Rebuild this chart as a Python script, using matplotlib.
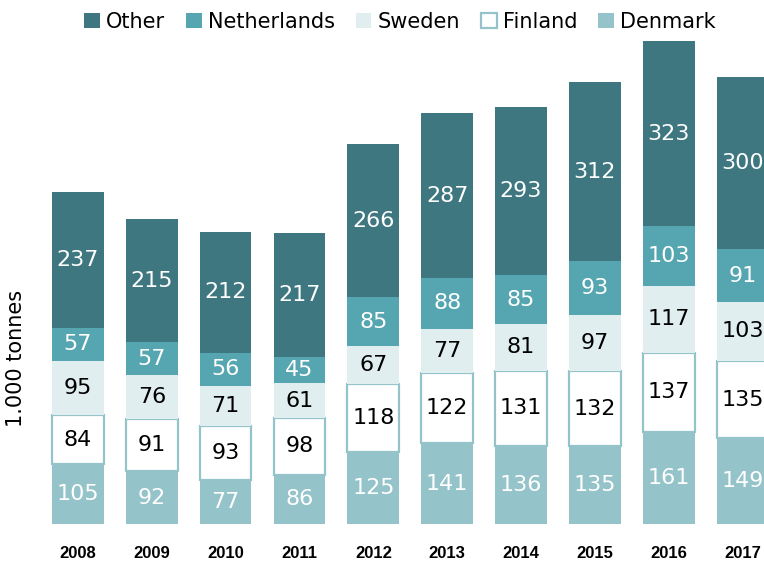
import matplotlib.pyplot as plt
import numpy as np

years = ['2008', '2009', '2010', '2011', '2012', '2013', '2014', '2015', '2016', '2017']
denmark = [105, 92, 77, 86, 125, 141, 136, 135, 161, 149]
finland = [84, 91, 93, 98, 118, 122, 131, 132, 137, 135]
sweden = [95, 76, 71, 61, 67, 77, 81, 97, 117, 103]
netherlands = [57, 57, 56, 45, 85, 88, 85, 93, 103, 91]
other = [237, 215, 212, 217, 266, 287, 293, 312, 323, 300]

c_other = '#3e7780'
c_nl = '#55a6b0'
c_se = '#e0eeef'
c_dk = '#94c3c9'


def main():
    fig = plt.figure(figsize=(7.64, 5.64), dpi=100)
    ax = fig.add_axes([41 / 764, 40 / 564, 723 / 764, 517 / 564])

    x = np.arange(len(years))
    w = 0.7
    series = [
        ('Denmark', denmark, dict(color=c_dk), 'white'),
        ('Finland', finland, dict(color='white', edgecolor=c_dk, linewidth=1.6), 'black'),
        ('Sweden', sweden, dict(color=c_se), 'black'),
        ('Netherlands', netherlands, dict(color=c_nl), 'white'),
        ('Other', other, dict(color=c_other), 'white'),
    ]
    bottom = np.zeros(len(years))
    handles = {}
    for name, vals, style, txt in series:
        vals = np.array(vals)
        bars = ax.bar(x, vals, w, bottom=bottom, label=name, **style)
        handles[name] = bars
        for xi, b, v in zip(x, bottom, vals):
            ax.text(xi, b + v / 2, str(v), ha='center', va='center',
                    color=txt, fontsize=16, fontfamily='DejaVu Sans')
        bottom += vals

    ax.set_xlim(-0.5, 9.29)
    ax.set_ylim(0, 900)
    ax.set_xticks(x)
    ax.set_xticklabels(years, fontsize=12, fontweight='bold',
                       fontfamily='Liberation Sans')
    ax.tick_params(axis='x', length=0, pad=16)
    ax.set_yticks([])
    for s in ax.spines.values():
        s.set_visible(False)

    fig.text(16 / 764, 1 - 358 / 564, '1.000 tonnes', rotation=90,
             ha='center', va='center', fontsize=15)

    order = ['Other', 'Netherlands', 'Sweden', 'Finland', 'Denmark']
    fig.legend([handles[k] for k in order], order, loc='center',
               bbox_to_anchor=(400 / 764, 1 - 22 / 564), ncol=5, frameon=False,
               fontsize=15, handlelength=0.75, handleheight=0.75,
               handletextpad=0.3, columnspacing=1.0)

    fig.savefig('out.png', dpi=100)


if __name__ == "__main__":
    main()
